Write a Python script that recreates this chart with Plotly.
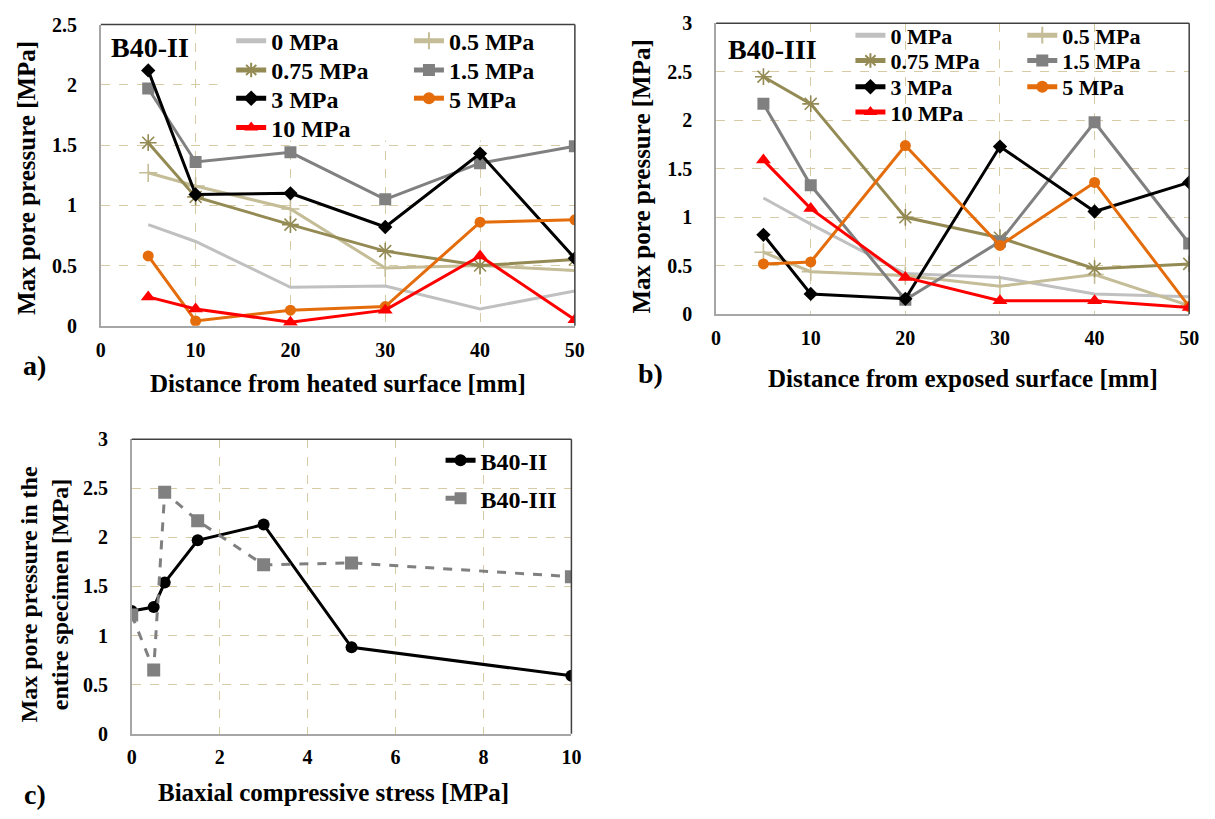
import plotly.graph_objects as go

# ---------------- data ----------------
dist = [5, 10, 20, 30, 40, 50]
labels = ["0 MPa", "0.5 MPa", "0.75 MPa", "1.5 MPa", "3 MPa", "5 MPa", "10 MPa"]

a_0 = [0.84, 0.70, 0.32, 0.33, 0.14, 0.29]
a_05 = [1.27, 1.16, 0.97, 0.48, 0.50, 0.46]
a_075 = [1.52, 1.07, 0.84, 0.62, 0.50, 0.55]
a_15 = [1.97, 1.36, 1.44, 1.05, 1.35, 1.49]
a_3 = [2.12, 1.09, 1.10, 0.82, 1.43, 0.56]
a_5 = [0.58, 0.04, 0.13, 0.16, 0.86, 0.88]
a_10 = [0.24, 0.14, 0.03, 0.13, 0.58, 0.05]

b_0 = [1.20, 0.93, 0.42, 0.38, 0.21, 0.18]
b_05 = [0.64, 0.44, 0.40, 0.29, 0.41, 0.09]
b_075 = [2.45, 2.17, 1.00, 0.79, 0.47, 0.52]
b_15 = [2.17, 1.33, 0.15, 0.75, 1.98, 0.73]
b_3 = [0.82, 0.21, 0.16, 1.73, 1.06, 1.36]
b_5 = [0.52, 0.54, 1.74, 0.71, 1.36, 0.08]
b_10 = [1.59, 1.09, 0.38, 0.14, 0.14, 0.07]

stress = [0, 0.5, 0.75, 1.5, 3, 5, 10]
c_II = [1.25, 1.29, 1.54, 1.97, 2.13, 0.88, 0.59]
c_III = [1.21, 0.65, 2.46, 2.17, 1.72, 1.74, 1.60]
c_names = ["B40-II", "B40-III"]

# ---------------- layout helpers ----------------
W, H = 1215, 819
FONT = "Liberation Serif, Times New Roman, serif"


def px(x):
    return x / W


def py(y):
    return 1 - y / H


styles = [
    dict(color="#c0c0c0", symbol=None, size=0),
    dict(color="#c4bd97", symbol="cross-thin-open", size=13),
    dict(color="#948a54", symbol="asterisk-open", size=14),
    dict(color="#808080", symbol="square", size=12),
    dict(color="#000000", symbol="diamond", size=11),
    dict(color="#e46c0a", symbol="circle", size=11),
    dict(color="#ff0000", symbol="triangle-up", size=13),
]

# legend row positions (page pixels): (text-left x, row centre y)
leg_a = [(273, 31), (453, 31), (273, 61), (453, 61), (273, 90), (453, 90), (273, 120)]
leg_b = [(900, 25), (1074, 25), (900, 51), (1074, 51), (900, 78), (1074, 78), (900, 104)]
leg_c = [(485, 462), (485, 501)]

fig = go.Figure()
legends = {}
TXT_OFF = 44
CLEAR = "rgba(0,0,0,0)"


def legend_box(name, pos, size):
    legends[name] = dict(
        x=px(pos[0] - TXT_OFF), y=py(pos[1]), xanchor="left", yanchor="middle",
        bgcolor=CLEAR, borderwidth=0, itemsizing="constant",
        font=dict(family=FONT, size=size, color="#000000", weight="bold"))


series_a = [a_0, a_05, a_075, a_15, a_3, a_5, a_10]
series_b = [b_0, b_05, b_075, b_15, b_3, b_5, b_10]

counter = [0]


def next_legend():
    counter[0] += 1
    return "legend" if counter[0] == 1 else "legend%d" % counter[0]


def add_panel(series, xa, ya, legpos, size):
    for i, (name, vals) in enumerate(zip(labels, series)):
        st = styles[i]
        lg = next_legend()
        legend_box(lg, legpos[i], size)
        kw = {}
        if st["symbol"] is not None:
            marker = dict(color=st["color"], size=st["size"], symbol=st["symbol"])
            if "open" in st["symbol"]:
                marker["line"] = dict(color=st["color"], width=1.6)
            kw["marker"] = marker
            mode = "lines+markers"
        else:
            mode = "lines"
        fig.add_trace(go.Scatter(
            x=dist, y=vals, name=name, mode=mode, showlegend=True,
            line=dict(color=st["color"], width=3),
            xaxis=xa, yaxis=ya, legend=lg, **kw))


add_panel(series_a, "x", "y", leg_a, 24)
add_panel(series_b, "x2", "y2", leg_b, 22)

lg = next_legend()
legend_box(lg, leg_c[0], 24)
fig.add_trace(go.Scatter(
    x=stress, y=c_II, name=c_names[0], mode="lines+markers", showlegend=True,
    line=dict(color="#000000", width=3),
    marker=dict(symbol="circle", size=12, color="#000000"),
    xaxis="x3", yaxis="y3", legend=lg))
lg = next_legend()
legend_box(lg, leg_c[1], 24)
fig.add_trace(go.Scatter(
    x=stress, y=c_III, name=c_names[1], mode="lines+markers", showlegend=True,
    line=dict(color="#808080", width=3, dash="dash"),
    marker=dict(symbol="square", size=13, color="#808080"),
    xaxis="x3", yaxis="y3", legend=lg))

GRID = "#d6cba5"
AXL = "#a6a6a6"
tickfont = dict(family=FONT, size=20, color="#000000", weight="bold")


def xax(domain, rng, dtick, anchor):
    return dict(domain=domain, range=rng, dtick=dtick, tick0=0, anchor=anchor,
                showgrid=True, gridcolor=GRID, griddash="dash", gridwidth=1,
                showline=True, linecolor=AXL, linewidth=1.5, zeroline=False,
                ticks="", tickfont=tickfont, ticklabelstandoff=5, fixedrange=True)


def yax(domain, rng, dtick, anchor):
    return dict(domain=domain, range=rng, dtick=dtick, tick0=0, anchor=anchor,
                showgrid=True, gridcolor=GRID, griddash="dash", gridwidth=1,
                showline=True, linecolor=AXL, linewidth=1.5, zeroline=False,
                ticks="", tickfont=tickfont, ticklabelstandoff=18, fixedrange=True)


# plot-area pixel boxes on the page (left, right, top, bottom)
A = (97, 577, 14, 323.5)
B = (720, 1199, 12.7, 311.7)
C = (128.3, 573.5, 440, 742.7)
A_XR, A_YR = [0, 50], [0, 2.5]

fig.update_layout(
    xaxis=xax([px(A[0]), px(A[1])], A_XR, 10, "y"),
    yaxis=yax([py(A[3]), py(A[2])], A_YR, 0.5, "x"),
    xaxis2=xax([px(B[0]), px(B[1])], [0, 50], 10, "y2"),
    yaxis2=yax([py(B[3]), py(B[2])], [0, 3], 0.5, "x2"),
    xaxis3=xax([px(C[0]), px(C[1])], [0, 10], 2, "y3"),
    yaxis3=yax([py(C[3]), py(C[2])], [0, 3], 0.5, "x3"),
)
fig.update_layout(showlegend=True, **legends)

shapes = []
# white patch behind panel a's legend (between gridlines and traces):
# converted from the legend's pixel box to panel a's axis units
pat_x0 = A_XR[0] + (215 - A[0]) / (A[1] - A[0]) * (A_XR[1] - A_XR[0])
pat_y0 = A_YR[0] + (A[3] - 133) / (A[3] - A[2]) * (A_YR[1] - A_YR[0])
shapes.append(dict(type="rect", xref="x", yref="y", layer="between",
                   x0=pat_x0, x1=A_XR[1], y0=pat_y0, y1=A_YR[1],
                   fillcolor="white", line=dict(width=0)))
# borders (top & right) for each panel
for xa, ya in (("x", "y"), ("x2", "y2"), ("x3", "y3")):
    shapes.append(dict(type="line", xref=xa + " domain", yref=ya + " domain",
                       x0=0, x1=1, y0=1, y1=1, line=dict(color="#404040", width=1.5)))
    shapes.append(dict(type="line", xref=xa + " domain", yref=ya + " domain",
                       x0=1, x1=1, y0=0, y1=1, line=dict(color="#404040", width=1.5)))
fig.update_layout(shapes=shapes)


def ann(text, x, y, size, angle=0):
    return dict(text=text, x=px(x), y=py(y), xref="paper", yref="paper",
                xanchor="center", yanchor="middle", showarrow=False, textangle=angle,
                font=dict(family=FONT, size=size, color="#000000", weight="bold"))


fig.update_layout(annotations=[
    ann("B40-II", 147, 38, 28),
    ann("B40-III", 777, 40, 28),
    ann("a)", 30, 364, 28),
    ann("b)", 654, 372, 28),
    ann("c)", 30, 805, 28),
    ann("Distance from heated surface [mm]", 337, 383, 25),
    ann("Distance from exposed surface [mm]", 970, 378, 25),
    ann("Biaxial compressive stress [MPa]", 333, 803, 25),
    ann("Max pore pressure [MPa]", 22, 172, 25, -90),
    ann("Max pore pressure [MPa]", 644, 170, 25, -90),
    ann("Max pore pressure in the<br>entire specimen [MPa]", 40, 600, 24, -90),
])

fig.update_layout(
    width=W, height=H, margin=dict(l=0, r=0, t=0, b=0),
    paper_bgcolor="white", plot_bgcolor="white",
    font=dict(family=FONT, color="#000000"),
)

fig.write_html("out.html", config={"displayModeBar": False},
               post_script="document.body.style.margin='0';")
